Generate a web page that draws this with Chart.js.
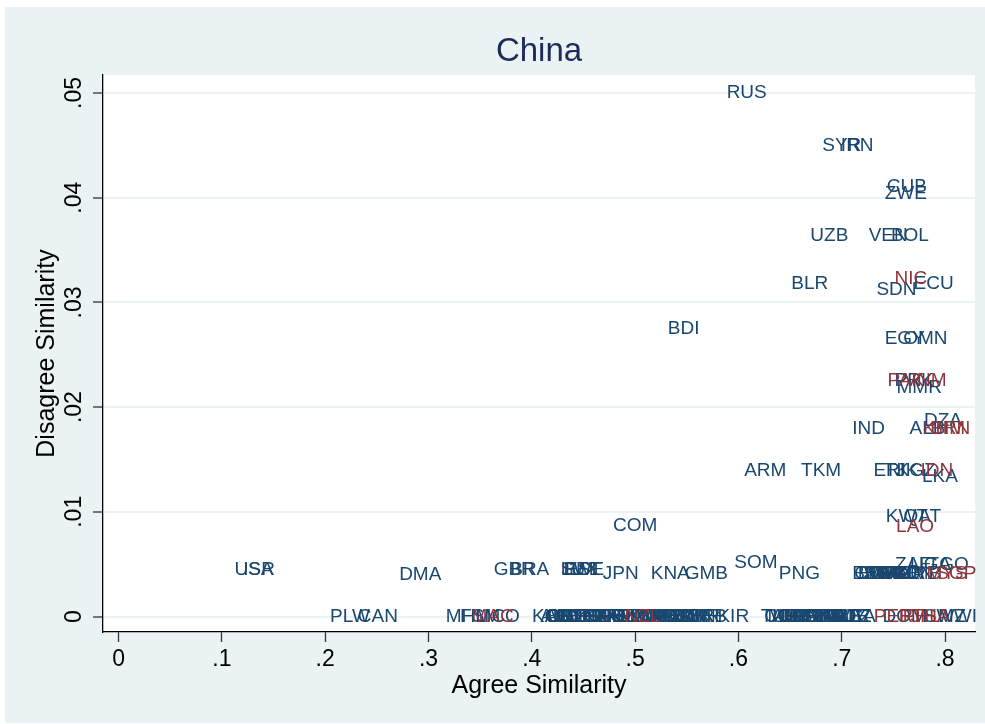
<!DOCTYPE html>
<html lang="en">
<head>
  <meta charset="UTF-8">
  <title>China - Agree vs Disagree Similarity</title>
  <script src="https://cdn.jsdelivr.net/npm/chart.js"></script>
  <style>
    body { margin: 0; background: #fff; }
    .frame { position: absolute; left: 5px; top: 7px; width: 980px; height: 716px; background: #eaf2f3; }
  </style>
</head>
<body>
  <div class="frame">
    <canvas id="chart" width="980" height="716"></canvas>
  </div>

  <script>
// Country codes and their (agree, disagree) similarity with China
const blueCodes = ['RUS','SYR','IRN','CUB','ZWE','UZB','VEN','BOL','BLR','SDN','ECU','BDI','EGY','OMN','PRK','MMR','IND','ALB','DZA','ARM','TKM','ERI','TJK','KGZ','LKA','KWT','QAT','COM',
  'USA','ISR','DMA','GBR','BRA','LUX','BEL','EST','SWE','JPN','KNA','GMB','SOM','PNG',
  'BEN','CMR','BWA','SEN','MOZ','GHA','NAM','MLI','AGO','TZA','KEN','ZMB','ZAF','UGA','TGO',
  'PLW','CAN','MHL','FSM','MCO','KOR','CHE',
  'AUS','AUT','BGR','BIH','CYP','CZE','DEU','DNK','ESP','FIN','FRA','GEO','GRC','HRV','HUN','IRL',
  'ISL','ITA','LIE','LTU','LVA','MDA','MKD','MLT','MNE','NLD','NOR','POL','PRT','ROU','SMR','SVK','SVN','UKR','SRB','KIR',
  'TUV','COL','MEX','ARG','CHL','URY','PRY','CRI','PAN','GTM','SLV','HND','HTI','JAM','TTO','BRB','GUY','SUR','BLZ','LCA',
  'DOM','SWZ','MWI'];
const blueAgree = [.608,.700,.715,.763,.762,.688,.745,.766,.669,.753,.789,.547,.761,.781,.770,.775,.726,.783,.798,.626,.680,.746,.758,.772,.795,.763,.778,.500,
  .131,.136,.292,.383,.398,.446,.448,.450,.449,.486,.534,.569,.617,.659,
  .729,.733,.736,.740,.743,.747,.750,.753,.756,.763,.770,.777,.769,.786,.803,
  .224,.251,.336,.350,.367,.420,.433,
  .427,.431,.435,.439,.443,.447,.451,.455,.459,.463,.467,.471,.475,.479,.483,.487,
  .491,.495,.499,.503,.511,.515,.519,.523,.527,.531,.535,.539,.543,.547,.551,.555,.559,.563,.570,.595,
  .640,.644,.648,.652,.656,.660,.664,.668,.672,.676,.680,.684,.688,.692,.696,.700,.704,.708,.712,.715,
  .761,.800,.812];
const blueDisagree = [.0500,.0450,.0450,.0410,.0404,.0364,.0364,.0364,.0318,.0312,.0318,.0275,.0265,.0265,.0225,.0218,.0179,.0179,.0187,.0139,.0139,.0139,.0139,.0139,.0133,.0095,.0095,.0087,
  .0045,.0045,.0040,.0045,.0045,.0045,.0045,.0045,.0045,.0041,.0041,.0041,.0051,.0041,
  .0041,.0041,.0041,.0041,.0041,.0041,.0041,.0041,.0041,.0041,.0041,.0041,.0049,.0049,.0049,
  0,0,0,0,0,0,0,
  0,0,0,0,0,0,0,0,0,0,0,0,0,0,0,0,
  0,0,0,0,0,0,0,0,0,0,0,0,0,0,0,0,0,0,0,0,
  0,0,0,0,0,0,0,0,0,0,0,0,0,0,0,0,0,0,0,0,
  0,0,0];

const redCodes = ['NIC','PAK','VNM','KHM','BRN','IDN','LAO','MYS','SGP','MAC','NZL','PER','FJI','PHL','THA'];
const redAgree = [.767,.762,.781,.799,.805,.792,.771,.802,.811,.362,.507,.750,.768,.777,.786];
const redDisagree = [.0323,.0225,.0225,.0179,.0179,.0139,.0086,.0041,.0041,0,0,0,0,0,0];

const xTickValues = [0,.1,.2,.3,.4,.5,.6,.7,.8];
const xTickLabels = ['0','.1','.2','.3','.4','.5','.6','.7','.8'];
const yTickValues = [0,.01,.02,.03,.04,.05];
const yTickLabels = ['0','.01','.02','.03','.04','.05'];

const FONT = '"Liberation Sans", Arial, Helvetica, sans-serif';
Chart.defaults.font.family = FONT;

function toPoints(xs, ys) {
  return xs.map((x, i) => ({ x: x, y: ys[i] }));
}

// white plot region
const plotBg = {
  id: 'plotBg',
  beforeDraw(chart) {
    const { ctx, chartArea: a } = chart;
    ctx.save();
    ctx.fillStyle = '#ffffff';
    ctx.fillRect(a.left, a.top, a.right - a.left, a.bottom - a.top);
    ctx.restore();
  }
};

// marker labels centred on each (invisible) point
const codeLabels = {
  id: 'codeLabels',
  afterDatasetsDraw(chart) {
    const ctx = chart.ctx;
    ctx.save();
    ctx.font = '19px ' + FONT;
    ctx.textAlign = 'center';
    ctx.textBaseline = 'middle';
    chart.data.datasets.forEach((ds, i) => {
      const meta = chart.getDatasetMeta(i);
      ctx.fillStyle = ds.labelColor;
      meta.data.forEach((pt, j) => {
        ctx.fillText(ds.codes[j], pt.x, pt.y);
      });
    });
    ctx.restore();
  }
};

new Chart(document.getElementById('chart'), {
  type: 'scatter',
  data: {
    datasets: [
      { data: toPoints(blueAgree, blueDisagree), codes: blueCodes, labelColor: '#1a476f', pointRadius: 0 },
      { data: toPoints(redAgree, redDisagree), codes: redCodes, labelColor: '#90353b', pointRadius: 0 }
    ]
  },
  options: {
    responsive: false,
    animation: false,
    devicePixelRatio: 1,
    layout: { padding: { left: 0, right: 10, top: 0, bottom: 0 } },
    plugins: {
      legend: { display: false },
      tooltip: { enabled: false },
      title: {
        display: true,
        fullSize: false,
        text: 'China',
        color: '#1c2b58',
        font: { size: 33, weight: 'normal' },
        padding: { top: 25, bottom: 3.4 }
      }
    },
    scales: {
      x: {
        type: 'linear',
        min: -0.0151,
        max: 0.829,
        afterBuildTicks: s => { s.ticks = xTickValues.map(v => ({ value: v })); },
        afterFit: s => { s.height = 91; },
        ticks: {
          callback: (v, i) => xTickLabels[i],
          color: '#000',
          font: { size: 23 },
          padding: 4,
          maxRotation: 0,
          autoSkip: false
        },
        grid: { drawOnChartArea: false, drawTicks: true, tickLength: 10, tickColor: '#333', tickWidth: 1.3 },
        border: { display: true, color: '#000', width: 1.3 },
        title: {
          display: true,
          text: 'Agree Similarity',
          color: '#000',
          font: { size: 25 },
          padding: { top: 0, bottom: 22 }
        }
      },
      y: {
        type: 'linear',
        min: -0.00148,
        max: 0.05172,
        afterBuildTicks: s => { s.ticks = yTickValues.map(v => ({ value: v })); },
        afterFit: s => { s.width = 98; },
        ticks: {
          callback: (v, i) => yTickLabels[i],
          color: '#000',
          font: { size: 23 },
          padding: 2.5,
          minRotation: 90,
          maxRotation: 90,
          crossAlign: 'center',
          autoSkip: false
        },
        grid: { color: '#eaf2f3', lineWidth: 2, drawTicks: true, tickLength: 10, tickColor: '#333', tickWidth: 1.3 },
        border: { display: true, color: '#000', width: 1.3 },
        title: {
          display: true,
          text: 'Disagree Similarity',
          color: '#000',
          font: { size: 25 },
          padding: { top: 27, bottom: 0 }
        }
      }
    }
  },
  plugins: [plotBg, codeLabels]
});
  </script>
</body>
</html>
